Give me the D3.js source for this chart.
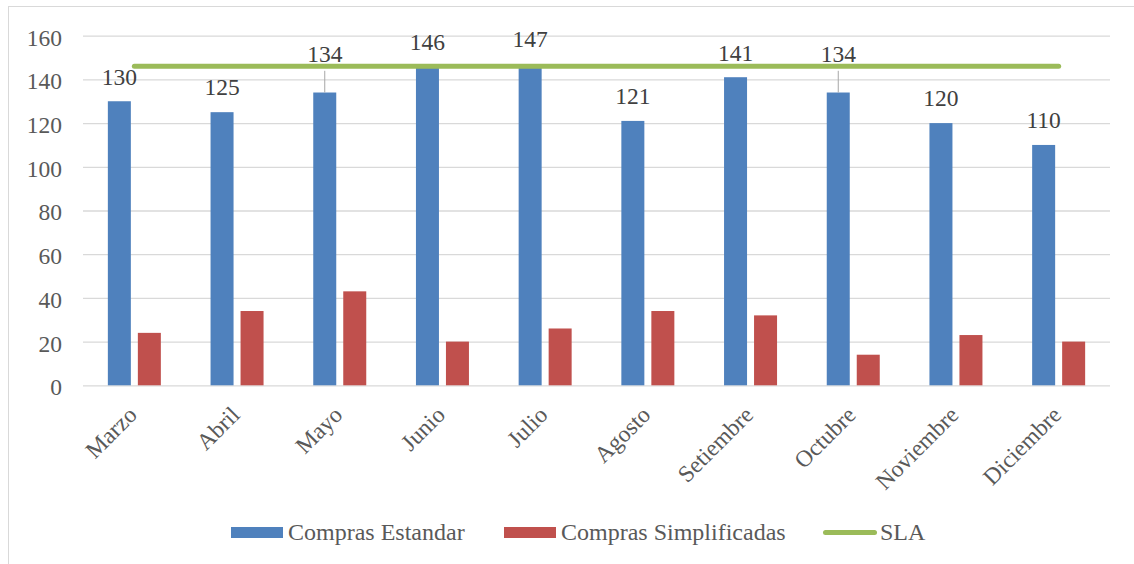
<!DOCTYPE html>
<html>
<head>
<meta charset="utf-8">
<script src="https://cdn.jsdelivr.net/npm/d3@7"></script>
<style>
  html, body { margin: 0; padding: 0; background: #ffffff; }
</style>
</head>
<body>
<svg id="chart" width="1134" height="564"></svg>
<script>
// Monthly purchase counts
const months = ["Marzo", "Abril", "Mayo", "Junio", "Julio", "Agosto", "Setiembre", "Octubre", "Noviembre", "Diciembre"];
const comprasEstandar = [130, 125, 134, 146, 147, 121, 141, 134, 120, 110];
const comprasSimplificadas = [24, 34, 43, 20, 26, 34, 32, 14, 23, 20];
const slaValues = [146, 146, 146, 146, 146, 146, 146, 146, 146, 146];
const yTicks = [0, 20, 40, 60, 80, 100, 120, 140, 160];
const seriesNames = ["Compras Estandar", "Compras Simplificadas", "SLA"];
// labels that sit on the SLA line are lifted and tied to their bar with a leader
const liftedLabels = ["Mayo", "Octubre"];

const colors = { estandar: "#4f81bd", simplificadas: "#c0504d", sla: "#9bbb59" };
const FONT = "'Liberation Serif', 'Times New Roman', Times, serif";
const FS = "23.5px";
const FS_LEGEND = "24px";

const svg = d3.select("#chart");

// chart frame
svg.append("rect")
  .attr("x", 8.5).attr("y", 6.5)
  .attr("width", 1140).attr("height", 570)
  .attr("fill", "none").attr("stroke", "#d9d9d9").attr("stroke-width", 1);

const plot = { left: 83, right: 1110, top: 35.7, bottom: 385.3 };

const x = d3.scaleBand().domain(months).range([plot.left, plot.right]).padding(0);
const y = d3.scaleLinear().domain([0, 160]).range([plot.bottom, plot.top]);

const barW = 23, gap = 7;
const off = (barW + gap) / 2;

// gridlines and y tick labels
const yAxis = d3.axisLeft(y).tickValues(yTicks).tickSize(-(plot.right - plot.left)).tickPadding(21).tickFormat(d3.format("d"));
const gy = svg.append("g").attr("transform", `translate(${plot.left},0)`).call(yAxis);
gy.attr("font-family", null).attr("font-size", null);
gy.select(".domain").remove();
gy.selectAll(".tick line").attr("stroke", "#d9d9d9").attr("stroke-width", 1.3);
gy.selectAll(".tick text")
  .attr("fill", "#595959")
  .style("font-family", FONT)
  .style("font-size", FS)
  .attr("dy", "0.4em");

// x axis labels
const xAxis = d3.axisBottom(x).tickSize(0).tickPadding(0);
const gx = svg.append("g").attr("transform", `translate(0,${plot.bottom})`).call(xAxis);
gx.attr("font-family", null).attr("font-size", null);
gx.select(".domain").remove();
gx.selectAll(".tick text")
  .attr("fill", "#595959")
  .style("font-family", FONT)
  .style("font-size", FS)
  .attr("text-anchor", "end")
  .attr("y", 0).attr("dy", 0)
  .attr("transform", "translate(4,31) rotate(-45)");

// bars
const gBars = svg.append("g");
gBars.selectAll("rect.est")
  .data(months)
  .join("rect")
  .attr("class", "est")
  .attr("x", (m) => x(m) + x.bandwidth() / 2 - off - barW / 2)
  .attr("y", (m, i) => y(comprasEstandar[i]))
  .attr("width", barW)
  .attr("height", (m, i) => y(0) - y(comprasEstandar[i]))
  .attr("fill", colors.estandar);

gBars.selectAll("rect.sim")
  .data(months)
  .join("rect")
  .attr("class", "sim")
  .attr("x", (m) => x(m) + x.bandwidth() / 2 + off - barW / 2)
  .attr("y", (m, i) => y(comprasSimplificadas[i]))
  .attr("width", barW)
  .attr("height", (m, i) => y(0) - y(comprasSimplificadas[i]))
  .attr("fill", colors.simplificadas);

// SLA line
const line = d3.line()
  .x((d, i) => x(months[i]) + x.bandwidth() / 2)
  .y((d) => y(d));
svg.append("path")
  .datum(slaValues)
  .attr("d", line)
  .attr("fill", "none")
  .attr("stroke", colors.sla)
  .attr("stroke-width", 5)
  .attr("stroke-linecap", "round");

// data labels on the standard purchases
const labelGap = 16.7;
const lift = 14;
const gLabels = svg.append("g");
months.forEach((m, i) => {
  const cx = x(m) + x.bandwidth() / 2 - off;
  const top = y(comprasEstandar[i]);
  const lifted = liftedLabels.includes(m);
  const base = top - labelGap - (lifted ? lift : 0);
  if (lifted) {
    gLabels.append("line")
      .attr("x1", cx).attr("x2", cx)
      .attr("y1", base + 9).attr("y2", top)
      .attr("stroke", "#a6a6a6").attr("stroke-width", 1);
  }
  gLabels.append("text")
    .attr("x", cx).attr("y", base)
    .attr("text-anchor", "middle")
    .attr("fill", "#404040")
    .style("font-family", FONT)
    .style("font-size", FS)
    .text(comprasEstandar[i]);
});

// legend
const legend = svg.append("g");
const legendY = 532.5;
const legendItems = [
  { name: seriesNames[0], x: 231, type: "rect", color: colors.estandar },
  { name: seriesNames[1], x: 504, type: "rect", color: colors.simplificadas },
  { name: seriesNames[2], x: 825.5, type: "line", color: colors.sla }
];
legendItems.forEach((it) => {
  let textX;
  if (it.type === "rect") {
    legend.append("rect")
      .attr("x", it.x).attr("y", legendY - 5.5)
      .attr("width", 52).attr("height", 11)
      .attr("fill", it.color);
    textX = it.x + 57;
  } else {
    legend.append("line")
      .attr("x1", it.x).attr("x2", it.x + 49)
      .attr("y1", legendY).attr("y2", legendY)
      .attr("stroke", it.color).attr("stroke-width", 5)
      .attr("stroke-linecap", "round");
    textX = it.x + 54.5;
  }
  legend.append("text")
    .attr("x", textX).attr("y", legendY + 7)
    .attr("fill", "#595959")
    .style("font-family", FONT)
    .style("font-size", FS_LEGEND)
    .text(it.name);
});
</script>
</body>
</html>
